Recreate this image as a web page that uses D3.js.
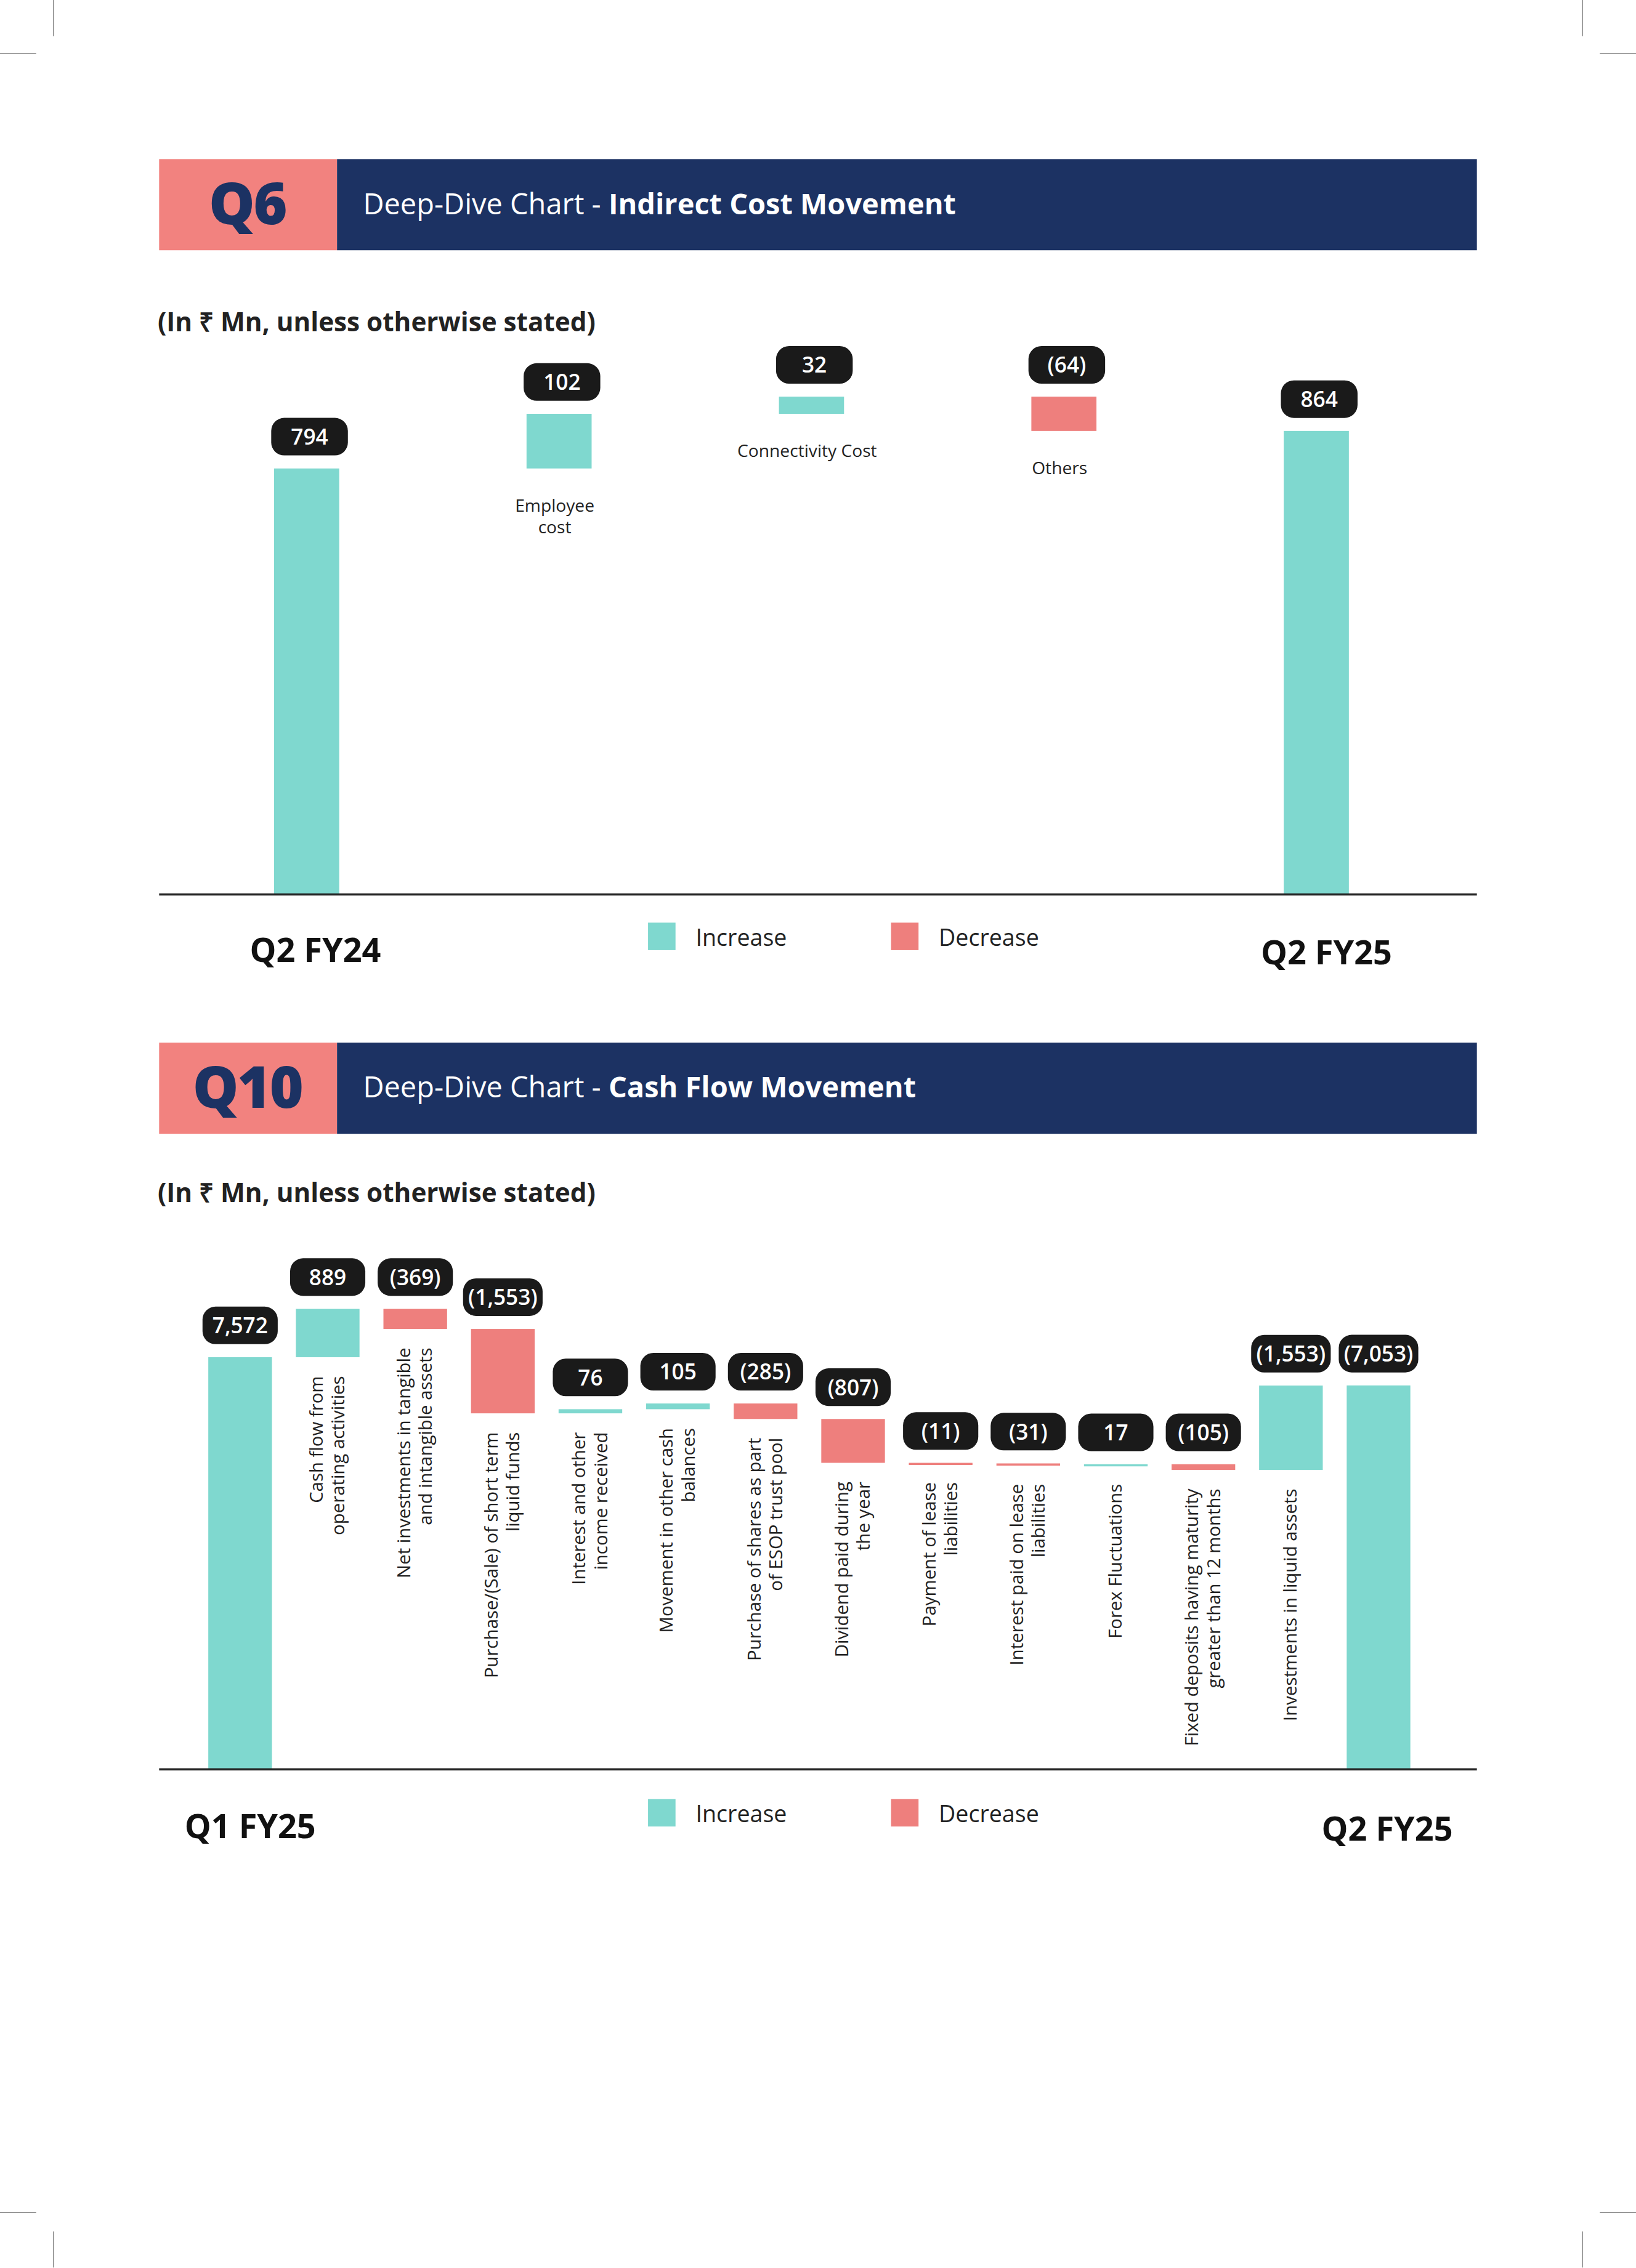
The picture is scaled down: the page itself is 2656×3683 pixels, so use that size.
<!DOCTYPE html>
<html><head><meta charset="utf-8">
<script src="https://cdn.jsdelivr.net/npm/d3@7"></script>
<style>body{margin:0;background:#fff}svg{display:block}text{font-family:"Open Sans",sans-serif}</style>
</head><body><div id="chart"></div>
<script>
// Q6 data
const costCats = ["Q2 FY24", "Employee cost", "Connectivity Cost", "Others", "Q2 FY25"];
const costVals = [794, 102, 32, -64, 864];
const costLabels = ["794", "102", "32", "(64)", "864"];
const costTotals = [true, false, false, false, true];

// Q10 data
const cashCats = ["Q1 FY25", "Cash flow from|operating activities", "Net investments in tangible|and intangible assets",
  "Purchase/(Sale) of short term|liquid funds", "Interest and other|income received", "Movement in other cash|balances",
  "Purchase of shares as part|of ESOP trust pool", "Dividend paid during|the year", "Payment of lease|liabilities",
  "Interest paid on lease|liabilities", "Forex Fluctuations", "Fixed deposits having maturity|greater than 12 months",
  "Investments in liquid assets", "Q2 FY25"];
const cashVals = [7572, 889, -369, -1553, 76, 105, -285, -807, -11, -31, 17, -105, 1553, 7053];
const cashLabels = ["7,572", "889", "(369)", "(1,553)", "76", "105", "(285)", "(807)", "(11)", "(31)", "17", "(105)", "(1,553)", "(7,053)"];
const cashTotals = [true, false, false, false, false, false, false, false, false, false, false, false, false, true];

const TEAL = "#7fd8cf", RED = "#ee7f7d", NAVY = "#1c3263", PINK = "#f2827f";

const svg = d3.select("#chart").append("svg")
  .attr("width", 2656).attr("height", 3683)
  .attr("viewBox", "0 0 1131 1568.3");

// crop marks
[[37,0,37,25],[0,37,25,37],[1094,0,1094,25],[1106,37,1131,37],
 [37,1543,37,1568],[0,1530,25,1530],[1094,1543,1094,1568],[1106,1530,1131,1530]]
  .forEach(l => svg.append("line").attr("x1", l[0]).attr("y1", l[1]).attr("x2", l[2]).attr("y2", l[3])
    .attr("stroke", "#999").attr("stroke-width", 0.8));

function waterfall(steps) {
  let run = 0;
  return steps.vals.map((v, i) => {
    let y0, y1;
    if (steps.totals[i]) { y0 = 0; y1 = v; run = v; }
    else { y0 = run; y1 = run + v; run = y1; }
    return { cat: steps.cats[i], v, label: steps.labels[i], lo: Math.min(y0, y1), hi: Math.max(y0, y1), total: steps.totals[i] };
  });
}

function header(y, q, title) {
  svg.append("rect").attr("x", 110).attr("y", y).attr("width", 123).attr("height", 63).attr("fill", PINK);
  svg.append("rect").attr("x", 233).attr("y", y).attr("width", 788).attr("height", 63).attr("fill", NAVY);
  svg.append("text").attr("x", 171).attr("y", y + 45).attr("text-anchor", "middle")
    .attr("font-size", 40).attr("font-weight", 800).attr("fill", NAVY).attr("letter-spacing", -1).text(q);
  const t = svg.append("text").attr("x", 251).attr("y", y + 38).attr("font-size", 20).attr("fill", "#fff");
  t.append("tspan").text("Deep-Dive Chart - ");
  t.append("tspan").attr("font-weight", 700).text(title);
}

function subtitle(y) {
  svg.append("text").attr("x", 109).attr("y", y).attr("font-size", 18).attr("font-weight", 700)
    .attr("fill", "#222").text("(In ₹ Mn, unless otherwise stated)");
}

function legend(y) {
  svg.append("rect").attr("x", 448).attr("y", y - 10).attr("width", 19).attr("height", 19).attr("fill", TEAL);
  svg.append("text").attr("x", 481).attr("y", y + 6).attr("font-size", 16).attr("fill", "#222").text("Increase");
  svg.append("rect").attr("x", 616).attr("y", y - 10).attr("width", 19).attr("height", 19).attr("fill", RED);
  svg.append("text").attr("x", 649).attr("y", y + 6).attr("font-size", 16).attr("fill", "#222").text("Decrease");
}

function pill(cx, bottom, txt, w) {
  svg.append("rect").attr("x", cx - w / 2).attr("y", bottom - 26).attr("width", w).attr("height", 26)
    .attr("rx", 9).attr("fill", "#1a1a1a");
  svg.append("text").attr("x", cx).attr("y", bottom - 7.5).attr("text-anchor", "middle")
    .attr("font-size", 15).attr("font-weight", 600).attr("fill", "#fff").text(txt);
}

// ---------- Q6 ----------
header(110, "Q6", "Indirect Cost Movement");
subtitle(229);
const d1 = waterfall({ cats: costCats, vals: costVals, labels: costLabels, totals: costTotals });
const x1 = d3.scalePoint().domain(costCats).range([212, 910]);
const y1 = d3.scaleLinear().domain([0, 864]).range([618, 298]);
d1.forEach(d => {
  const cx = x1(d.cat);
  const top = y1(d.hi), bot = y1(d.lo);
  svg.append("rect").attr("x", cx - 22.5).attr("y", top).attr("width", 45)
    .attr("height", Math.max(bot - top, 1.5)).attr("fill", d.v >= 0 ? TEAL : RED);
  pill(cx + 2, top - 9, d.label, 53);
  if (!d.total) {
    const lines = d.cat === "Employee cost" ? ["Employee", "cost"] : [d.cat];
    lines.forEach((ln, j) => svg.append("text").attr("x", cx - 3).attr("y", bot + 30 + j * 15)
      .attr("text-anchor", "middle").attr("font-size", 12).attr("fill", "#222").text(ln));
  }
});
svg.append("line").attr("x1", 110).attr("x2", 1021).attr("y1", 618.5).attr("y2", 618.5).attr("stroke", "#222").attr("stroke-width", 1.5);
svg.append("text").attr("x", 218).attr("y", 665).attr("text-anchor", "middle").attr("font-size", 23).attr("font-weight", 700).attr("fill", "#111").text("Q2 FY24");
svg.append("text").attr("x", 917).attr("y", 667).attr("text-anchor", "middle").attr("font-size", 23).attr("font-weight", 700).attr("fill", "#111").text("Q2 FY25");
legend(648);

// ---------- Q10 ----------
header(721, "Q10", "Cash Flow Movement");
subtitle(831);
const d2 = waterfall({ cats: cashCats, vals: cashVals, labels: cashLabels, totals: cashTotals });
const x2 = d3.scalePoint().domain(cashCats).range([166, 953]);
const y2 = d3.scaleLinear().domain([0, 7053]).range([1223, 958]);
d2.forEach(d => {
  const cx = x2(d.cat);
  const top = y2(d.hi), bot = y2(d.lo);
  svg.append("rect").attr("x", cx - 22).attr("y", top).attr("width", 44)
    .attr("height", Math.max(bot - top, 1.5)).attr("fill", d.v >= 0 ? TEAL : RED);
  pill(cx, top - 9, d.label, d.label.length > 5 ? 55 : 52);
  if (!d.total) {
    const lines = d.cat.split("|");
    const yTop = bot + 13;
    lines.forEach((ln, j) => {
      const dx = (j - (lines.length - 1) / 2) * 15 + 4;
      svg.append("text").attr("transform", `translate(${cx + dx},${yTop}) rotate(-90)`)
        .attr("text-anchor", "end").attr("font-size", 12.5).attr("fill", "#222").text(ln);
    });
  }
});
svg.append("line").attr("x1", 110).attr("x2", 1021).attr("y1", 1223.5).attr("y2", 1223.5).attr("stroke", "#222").attr("stroke-width", 1.5);
svg.append("text").attr("x", 173).attr("y", 1271).attr("text-anchor", "middle").attr("font-size", 23).attr("font-weight", 700).attr("fill", "#111").text("Q1 FY25");
svg.append("text").attr("x", 959).attr("y", 1273).attr("text-anchor", "middle").attr("font-size", 23).attr("font-weight", 700).attr("fill", "#111").text("Q2 FY25");
legend(1254);
</script></body></html>
